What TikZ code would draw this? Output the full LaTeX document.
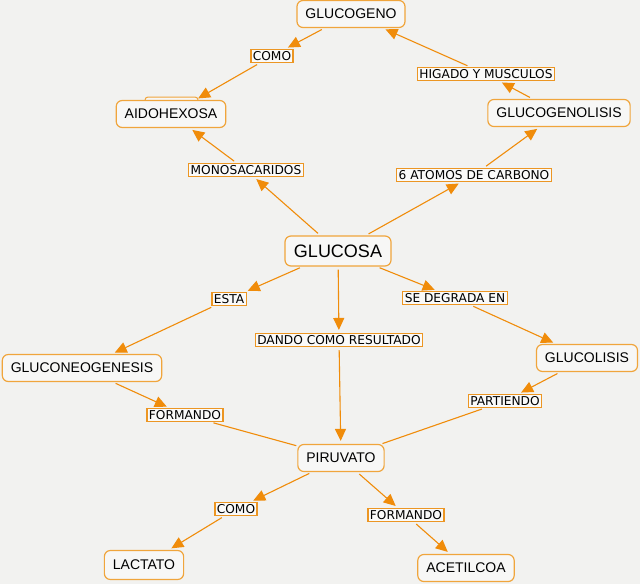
\documentclass[tikz,border=0pt]{standalone}
\usepackage{fontspec}
\setmainfont{Liberation Sans}
\newfontfamily\linkfont{DejaVu Sans}
\usetikzlibrary{arrows.meta}
\definecolor{bgcol}{RGB}{242,242,240}
\definecolor{arrowor}{RGB}{240,140,10}
\definecolor{boxor}{RGB}{240,165,60}
\definecolor{linkor}{RGB}{236,150,35}

\begin{document}
\begin{tikzpicture}[x=1pt, y=-1pt,
    concept/.style={draw=boxor, line width=1.2pt, rounded corners=6pt, fill=white!40!bgcol,
      inner xsep=8.5pt, minimum height=27pt, font=\fontsize{14}{16}\selectfont},
    linkword/.style={draw=linkor, line width=1.3pt, fill=white!60!bgcol, inner xsep=2pt, inner ysep=2pt,
      text height=8.8pt, text depth=0pt, font=\linkfont\fontsize{12.2}{14}\selectfont},
    conn/.style={draw=arrowor, line width=1.1pt, -{Triangle[length=12pt,width=11pt]},
      shorten >=3pt, shorten <=3pt},
    joinline/.style={draw=arrowor, line width=1.1pt, shorten <=3pt, shorten >=1pt}]
  \useasboundingbox (0,0) rectangle (640,584);
  \fill[bgcol] (0,0) rectangle (640,584);
  % tab on top of aidohexosa
  \draw[boxor, line width=1pt, rounded corners=3pt, fill=white!40!bgcol] (145,106) rectangle (198,97);
  % concepts
  \node[concept] (glucogeno) at (351,14) {GLUCOGENO};
  \node[concept] (aidohexosa) at (171,114) {AIDOHEXOSA};
  \node[concept] (glucogenolisis) at (559,113) {GLUCOGENOLISIS};
  \node[concept, font=\fontsize{18}{20}\selectfont, minimum height=30pt, inner xsep=9pt] (glucosa) at (338,251) {GLUCOSA};
  \node[concept] (gluconeo) at (82,368) {GLUCONEOGENESIS};
  \node[concept] (glucolisis) at (587,358) {GLUCOLISIS};
  \node[concept] (piruvato) at (341,458) {PIRUVATO};
  \node[concept, minimum height=29pt] (lactato) at (144,565) {LACTATO};
  \node[concept] (acetilcoa) at (466,568) {ACETILCOA};
  % linking words
  \node[linkword] (comoA) at (272,56) {COMO};
  \node[linkword] (higado) at (486,74) {HIGADO Y MUSCULOS};
  \node[linkword] (mono) at (246,170) {MONOSACARIDOS};
  \node[linkword] (atomos) at (474,175) {6 ATOMOS DE CARBONO};
  \node[linkword] (esta) at (229,299) {ESTA};
  \node[linkword] (degrada) at (455,298) {SE DEGRADA EN};
  \node[linkword] (dando) at (339,340) {DANDO COMO RESULTADO};
  \node[linkword] (partiendo) at (505,401) {PARTIENDO};
  \node[linkword] (formandoA) at (185,415) {FORMANDO};
  \node[linkword] (comoB) at (236,509) {COMO};
  \node[linkword] (formandoB) at (406,515) {FORMANDO};
  % connectors
  \foreach \a/\b in {glucogeno/comoA, comoA/aidohexosa, glucogenolisis/higado, higado/glucogeno,
      glucosa/mono, mono/aidohexosa, glucosa/atomos, atomos/glucogenolisis,
      glucosa/esta, esta/gluconeo, glucosa/dando, dando/piruvato,
      glucosa/degrada, degrada/glucolisis, glucolisis/partiendo, gluconeo/formandoA,
      piruvato/comoB, comoB/lactato, piruvato/formandoB, formandoB/acetilcoa}
    \draw[conn] (\a) -- (\b);
  \draw[joinline] (partiendo) -- (piruvato);
  \draw[joinline] (formandoA) -- (piruvato);
\end{tikzpicture}
\end{document}
